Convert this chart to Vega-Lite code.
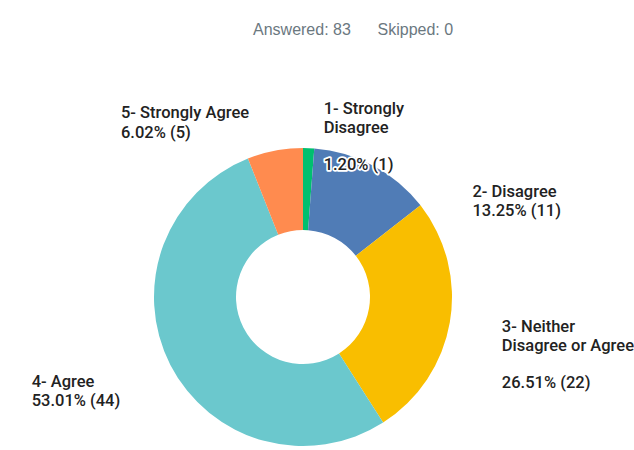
{
  "$schema": "https://vega.github.io/schema/vega-lite/v6.json",
  "width": 606,
  "height": 306,
  "autosize": "none",
  "padding": {"left": 0, "top": 144, "right": 28, "bottom": 0},
  "background": "white",
  "title": {
    "text": "Answered: 83\u00a0\u00a0\u00a0\u00a0\u00a0\u00a0Skipped: 0",
    "font": "Liberation Sans",
    "fontSize": 16,
    "fontWeight": "normal",
    "color": "#6b787f",
    "anchor": "start",
    "frame": "group",
    "dx": 253,
    "offset": 50,
    "baseline": "alphabetic"
  },
  "data": {
    "values": [
      {"answer": "1- Strongly Disagree", "name": "1- Strongly\nDisagree", "pct": "1.20% (1)", "count": 1, "order": 1},
      {"answer": "2- Disagree", "name": "2- Disagree", "pct": "13.25% (11)", "count": 11, "order": 2},
      {"answer": "3- Neither Disagree or Agree", "name": "3- Neither\nDisagree or Agree", "pct": "26.51% (22)", "count": 22, "order": 3},
      {"answer": "4- Agree", "name": "4- Agree", "pct": "53.01% (44)", "count": 44, "order": 4},
      {"answer": "5- Strongly Agree", "name": "5- Strongly Agree", "pct": "6.02% (5)", "count": 5, "order": 5}
    ]
  },
  "encoding": {
    "theta": {"field": "count", "type": "quantitative", "stack": true},
    "order": {"field": "order", "type": "quantitative"}
  },
  "layer": [
    {
      "mark": {"type": "arc", "outerRadius": 149, "innerRadius": 67},
      "encoding": {
        "color": {
          "field": "answer",
          "type": "nominal",
          "scale": {
            "domain": ["1- Strongly Disagree", "2- Disagree", "3- Neither Disagree or Agree", "4- Agree", "5- Strongly Agree"],
            "range": ["#00BF6F", "#507CB6", "#F9BE00", "#6BC8CD", "#FF8B4F"]
          },
          "legend": null
        }
      }
    },
    {
      "mark": {"type": "text", "radius": 149, "align": "left", "baseline": "alphabetic", "dx": 15, "dy": -34, "font": "Roboto", "fontSize": 16.5, "fontWeight": 500, "lineHeight": 18.8, "lineBreak": "\n", "fill": "#222222"},
      "encoding": {"text": {"condition": {"test": "datum.order == 1", "field": "name"}, "value": ""}}
    },
    {
      "mark": {"type": "text", "radius": 149, "align": "left", "baseline": "alphabetic", "dx": 15, "dy": 22, "font": "Roboto", "fontSize": 16.5, "fontWeight": 500, "fill": "white", "stroke": "white", "strokeWidth": 3.5, "strokeJoin": "round"},
      "encoding": {"text": {"condition": {"test": "datum.order == 1", "field": "pct"}, "value": ""}}
    },
    {
      "mark": {"type": "text", "radius": 149, "align": "left", "baseline": "alphabetic", "dx": 15, "dy": 22, "font": "Roboto", "fontSize": 16.5, "fontWeight": 500, "fill": "#222222"},
      "encoding": {"text": {"condition": {"test": "datum.order == 1", "field": "pct"}, "value": ""}}
    },
    {
      "mark": {"type": "text", "radius": 149, "align": "left", "baseline": "alphabetic", "dx": 99, "dy": 31.6, "font": "Roboto", "fontSize": 16.5, "fontWeight": 500, "lineHeight": 18.8, "lineBreak": "\n", "fill": "#222222"},
      "encoding": {"text": {"condition": {"test": "datum.order == 2", "field": "name"}, "value": ""}}
    },
    {
      "mark": {"type": "text", "radius": 149, "align": "left", "baseline": "alphabetic", "dx": 99, "dy": 50.3, "font": "Roboto", "fontSize": 16.5, "fontWeight": 500, "fill": "#222222"},
      "encoding": {"text": {"condition": {"test": "datum.order == 2", "field": "pct"}, "value": ""}}
    },
    {
      "mark": {"type": "text", "radius": 149, "align": "left", "baseline": "alphabetic", "dx": 52, "dy": 10, "font": "Roboto", "fontSize": 16.5, "fontWeight": 500, "lineHeight": 18.8, "lineBreak": "\n", "fill": "#222222"},
      "encoding": {"text": {"condition": {"test": "datum.order == 3", "field": "name"}, "value": ""}}
    },
    {
      "mark": {"type": "text", "radius": 149, "align": "left", "baseline": "alphabetic", "dx": 52, "dy": 65.4, "font": "Roboto", "fontSize": 16.5, "fontWeight": 500, "fill": "#222222"},
      "encoding": {"text": {"condition": {"test": "datum.order == 3", "field": "pct"}, "value": ""}}
    },
    {
      "mark": {"type": "text", "radius": 149, "align": "left", "baseline": "alphabetic", "dx": -138.7, "dy": 21.8, "font": "Roboto", "fontSize": 16.5, "fontWeight": 500, "lineHeight": 18.8, "lineBreak": "\n", "fill": "#222222"},
      "encoding": {"text": {"condition": {"test": "datum.order == 4", "field": "name"}, "value": ""}}
    },
    {
      "mark": {"type": "text", "radius": 149, "align": "left", "baseline": "alphabetic", "dx": -138.7, "dy": 40.8, "font": "Roboto", "fontSize": 16.5, "fontWeight": 500, "fill": "#222222"},
      "encoding": {"text": {"condition": {"test": "datum.order == 4", "field": "pct"}, "value": ""}}
    },
    {
      "mark": {"type": "text", "radius": 149, "align": "left", "baseline": "alphabetic", "dx": -154, "dy": -32.4, "font": "Roboto", "fontSize": 16.5, "fontWeight": 500, "lineHeight": 18.8, "lineBreak": "\n", "fill": "#222222"},
      "encoding": {"text": {"condition": {"test": "datum.order == 5", "field": "name"}, "value": ""}}
    },
    {
      "mark": {"type": "text", "radius": 149, "align": "left", "baseline": "alphabetic", "dx": -154, "dy": -13, "font": "Roboto", "fontSize": 16.5, "fontWeight": 500, "fill": "#222222"},
      "encoding": {"text": {"condition": {"test": "datum.order == 5", "field": "pct"}, "value": ""}}
    }
  ],
  "config": {"view": {"stroke": null}}
}
